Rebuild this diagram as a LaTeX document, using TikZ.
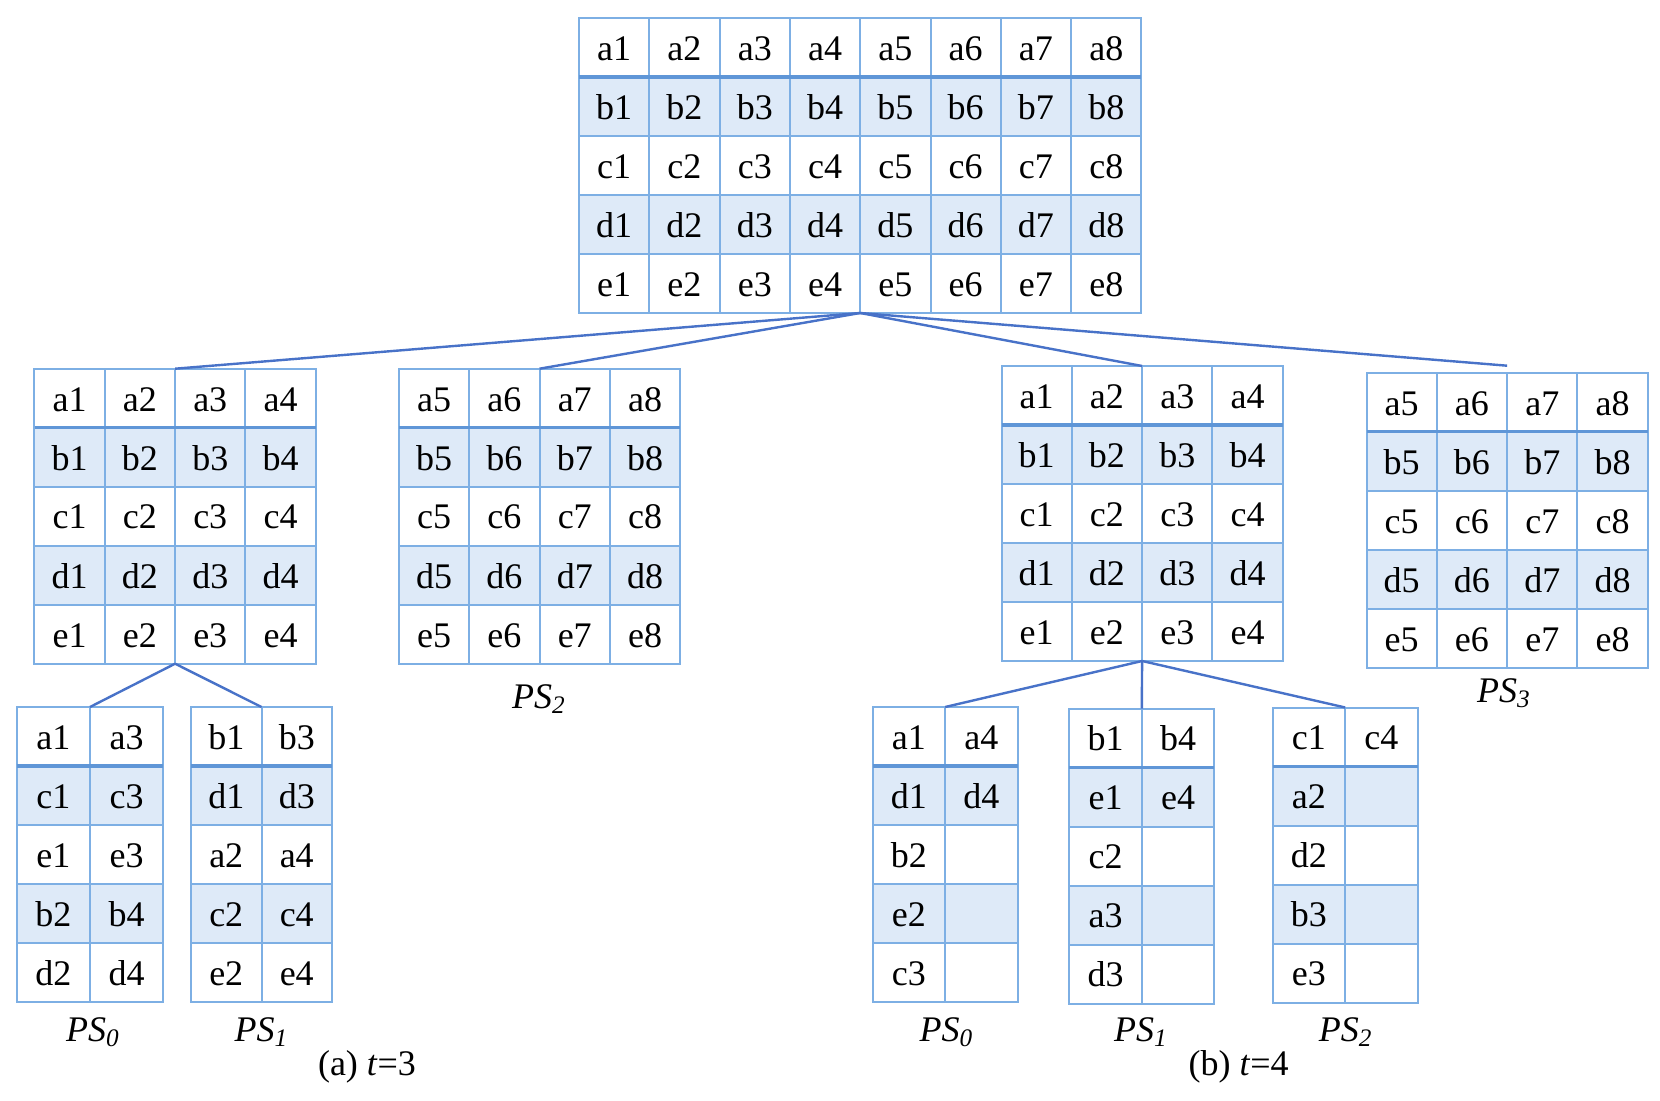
\documentclass[tikz,border=0pt]{standalone}
\usepackage{fontspec}
\setmainfont{Liberation Serif}
\usetikzlibrary{matrix}
\definecolor{cellc}{RGB}{125,175,228}
\definecolor{hdrc}{RGB}{95,150,215}
\definecolor{shade}{RGB}{222,234,248}
\definecolor{linkc}{RGB}{72,114,200}
\begin{document}
\begin{tikzpicture}[x=0.5pt,y=-0.5pt,
  cell/.style={draw=cellc,line width=1pt,minimum height=29.5pt,inner sep=0pt,outer sep=0pt,anchor=center,text height=12.8pt,text depth=0pt,font=\fontsize{18}{20}\selectfont},
  tab/.style={matrix of nodes,nodes in empty cells,inner sep=0pt,outer sep=0pt,column sep=-1pt,row sep=-1pt,anchor=north west,nodes={cell,minimum width=#1},row 2/.style={nodes={fill=shade}},row 4/.style={nodes={fill=shade}}},
  tab/.default=35.15pt,
  hdr/.style={draw=hdrc,line width=1.8pt},
  link/.style={draw=linkc,line width=1.2pt},
  lab/.style={font=\fontsize{18}{20}\selectfont\itshape,inner sep=0pt},
  captext/.style={font=\fontsize{18}{20}\selectfont,inner sep=0pt}
]
\useasboundingbox[fill=white] (0,0) rectangle (1660,1101);

% ---------- tables ----------
\matrix (T) [tab] at (578,17) {
a1 & a2 & a3 & a4 & a5 & a6 & a7 & a8 \\
b1 & b2 & b3 & b4 & b5 & b6 & b7 & b8 \\
c1 & c2 & c3 & c4 & c5 & c6 & c7 & c8 \\
d1 & d2 & d3 & d4 & d5 & d6 & d7 & d8 \\
e1 & e2 & e3 & e4 & e5 & e6 & e7 & e8 \\
};

\matrix (MA) [tab] at (33.5,367.7) {
a1 & a2 & a3 & a4 \\
b1 & b2 & b3 & b4 \\
c1 & c2 & c3 & c4 \\
d1 & d2 & d3 & d4 \\
e1 & e2 & e3 & e4 \\
};

\matrix (MB) [tab] at (398,367.7) {
a5 & a6 & a7 & a8 \\
b5 & b6 & b7 & b8 \\
c5 & c6 & c7 & c8 \\
d5 & d6 & d7 & d8 \\
e5 & e6 & e7 & e8 \\
};

\matrix (MC) [tab] at (1000.5,365) {
a1 & a2 & a3 & a4 \\
b1 & b2 & b3 & b4 \\
c1 & c2 & c3 & c4 \\
d1 & d2 & d3 & d4 \\
e1 & e2 & e3 & e4 \\
};

\matrix (MD) [tab] at (1365.5,371.7) {
a5 & a6 & a7 & a8 \\
b5 & b6 & b7 & b8 \\
c5 & c6 & c7 & c8 \\
d5 & d6 & d7 & d8 \\
e5 & e6 & e7 & e8 \\
};

\matrix (PA0) [tab=36.65pt] at (15.7,706) {
a1 & a3 \\
c1 & c3 \\
e1 & e3 \\
b2 & b4 \\
d2 & d4 \\
};

\matrix (PA1) [tab=35.25pt] at (190,706) {
b1 & b3 \\
d1 & d3 \\
a2 & a4 \\
c2 & c4 \\
e2 & e4 \\
};

\matrix (PB0) [tab=36.25pt] at (871.7,706) {
a1 & a4 \\
d1 & d4 \\
b2 & \\
e2 & \\
c3 & \\
};

\matrix (PB1) [tab=36.25pt] at (1068.3,707.5) {
b1 & b4 \\
e1 & e4 \\
c2 & \\
a3 & \\
d3 & \\
};

\matrix (PB2) [tab=36.25pt] at (1271.7,706.5) {
c1 & c4 \\
a2 & \\
d2 & \\
b3 & \\
e3 & \\
};

% ---------- header separators ----------
\draw[hdr] (T-1-1.south west) -- (T-1-8.south east);
\foreach \m in {MA,MB,MC,MD} \draw[hdr] (\m-1-1.south west) -- (\m-1-4.south east);
\foreach \m in {PA0,PA1,PB0,PB1,PB2} \draw[hdr] (\m-1-1.south west) -- (\m-1-2.south east);

% ---------- connectors ----------
\coordinate (mdtop) at ([yshift=3.5pt]MD-1-2.north east);
\draw[link] (T-5-4.south east) -- (MA-1-2.north east);
\draw[link] (T-5-4.south east) -- (MB-1-2.north east);
\draw[link] (T-5-4.south east) -- (MC-1-2.north east);
\draw[link] (T-5-4.south east) -- (mdtop);
\draw[link] (MA-5-2.south east) -- (PA0-1-1.north east);
\draw[link] (MA-5-2.south east) -- (PA1-1-1.north east);
\draw[link] (MC-5-2.south east) -- (PB0-1-1.north east);
\draw[link] (MC-5-2.south east) -- (PB1-1-1.north east);
\draw[link] (MC-5-2.south east) -- (PB2-1-1.north east);

% ---------- labels ----------
\node[lab] (lps2a) at (539,699) {PS\textsubscript{2}};
\node[lab] (lps3b) at (1504,693) {PS\textsubscript{3}};
\node[lab] (lps0a) at (93,1032) {PS\textsubscript{0}};
\node[lab] (lps1a) at (261.5,1032) {PS\textsubscript{1}};
\node[lab] (lps0b) at (946.5,1032) {PS\textsubscript{0}};
\node[lab] (lps1b) at (1141,1032) {PS\textsubscript{1}};
\node[lab] (lps2b) at (1345.6,1032) {PS\textsubscript{2}};
\node[captext] (capa) at (367,1067) {(a) \textit{t}=3};
\node[captext] (capb) at (1238.7,1067) {(b) \textit{t}=4};
\end{tikzpicture}
\end{document}
